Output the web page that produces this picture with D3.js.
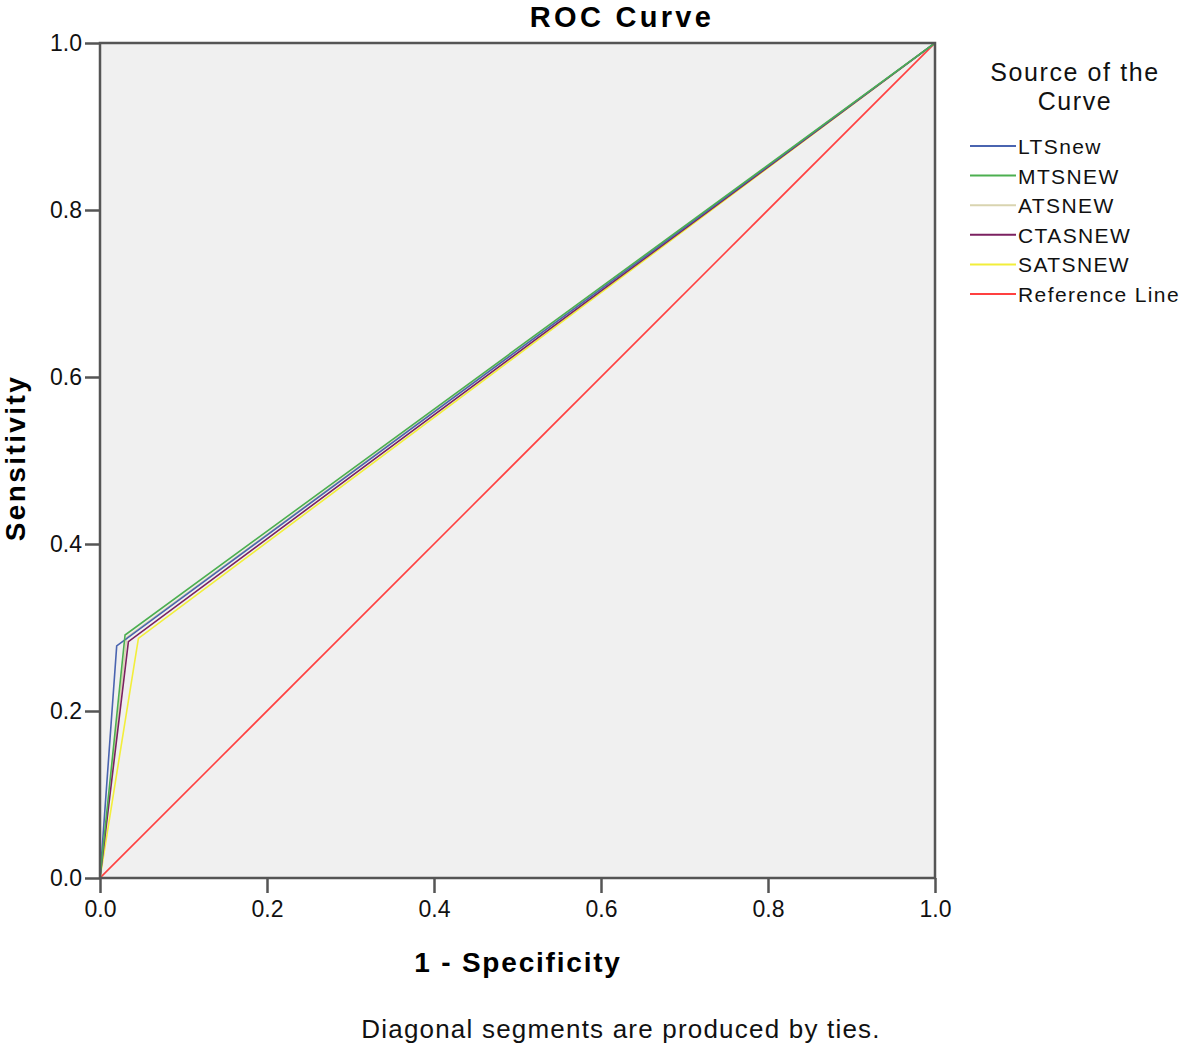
<!DOCTYPE html>
<html><head><meta charset="utf-8">
<script src="https://cdn.jsdelivr.net/npm/d3@7"></script>
<style>body{margin:0;background:#fff}</style>
</head><body>
<svg id="c" width="1181" height="1047"></svg>
<script>
const seriesNames = ["LTSnew","MTSNEW","ATSNEW","CTASNEW","SATSNEW","Reference Line"];
const seriesColors = ["#4a64b0","#4caf50","#d9d4b0","#7b2160","#f2ee3a","#ff4040"];
const ltsPoints = [[0,0],[0.020,0.278],[1,1]];
const mtsPoints = [[0,0],[0.030,0.291],[1,1]];
const atsPoints = [[0,0],[0.032,0.288],[1,1]];
const ctasPoints = [[0,0],[0.034,0.283],[1,1]];
const satsPoints = [[0,0],[0.046,0.287],[1,1]];
const refPoints = [[0,0],[1,1]];
const tickValues = [0,0.2,0.4,0.6,0.8,1.0];

const svg = d3.select("#c");
const L=100,R=935,T=43,B=878;
const x = d3.scaleLinear().domain([0,1]).range([L,R]);
const y = d3.scaleLinear().domain([0,1]).range([B,T]);
const font = "'Liberation Sans', Arial, sans-serif";

svg.append("rect").attr("x",L).attr("y",T).attr("width",R-L).attr("height",B-T).attr("fill","#f0f0f0");

svg.append("defs").append("clipPath").attr("id","pc").append("rect").attr("x",L).attr("y",T).attr("width",R-L).attr("height",B-T);

const line = d3.line().x(d=>x(d[0])).y(d=>y(d[1]));
const order = [refPoints, satsPoints, atsPoints, ctasPoints, ltsPoints, mtsPoints];
const orderColors = [5,4,2,3,0,1];
const g = svg.append("g").attr("clip-path","url(#pc)");
order.forEach((pts,i)=>{
  g.append("path").datum(pts).attr("d",line).attr("fill","none")
   .attr("stroke",seriesColors[orderColors[i]]).attr("stroke-width",1.6);
});

svg.append("rect").attr("x",L).attr("y",T).attr("width",R-L).attr("height",B-T)
  .attr("fill","none").attr("stroke","#555").attr("stroke-width",2.5);

const yAxis = d3.axisLeft(y).tickValues(tickValues).tickFormat(d3.format(".1f")).tickSize(15).tickPadding(3);
const yg = svg.append("g").attr("transform",`translate(${L},0)`).call(yAxis);
const xAxis = d3.axisBottom(x).tickValues(tickValues).tickFormat(d3.format(".1f")).tickSize(15).tickPadding(8);
const xg = svg.append("g").attr("transform",`translate(0,${B})`).call(xAxis);
[yg,xg].forEach(a=>{
  a.select(".domain").remove();
  a.selectAll(".tick line").attr("stroke","#555").attr("stroke-width",2.5);
  a.selectAll(".tick text").attr("font-family",font).attr("font-size",23).attr("fill","#111");
});

svg.append("text").attr("x",622).attr("y",27).attr("text-anchor","middle")
  .attr("font-family",font).attr("font-weight","bold").attr("font-size",29).attr("letter-spacing",3.3).text("ROC Curve");
svg.append("text").attr("x",518).attr("y",972).attr("text-anchor","middle")
  .attr("font-family",font).attr("font-weight","bold").attr("font-size",28).attr("letter-spacing",1.8).text("1 - Specificity");
svg.append("text").attr("transform","translate(25,458) rotate(-90)").attr("text-anchor","middle")
  .attr("font-family",font).attr("font-weight","bold").attr("font-size",28).attr("letter-spacing",2.4).text("Sensitivity");
svg.append("text").attr("x",621).attr("y",1038).attr("text-anchor","middle")
  .attr("font-family",font).attr("font-size",26).attr("letter-spacing",1.2).attr("fill","#111").text("Diagonal segments are produced by ties.");

const lg = svg.append("g");
lg.append("text").attr("x",1075).attr("y",81).attr("text-anchor","middle")
  .attr("font-family",font).attr("font-size",25).attr("letter-spacing",1.6).attr("fill","#111").text("Source of the");
lg.append("text").attr("x",1075).attr("y",110).attr("text-anchor","middle")
  .attr("font-family",font).attr("font-size",25).attr("letter-spacing",1.6).attr("fill","#111").text("Curve");
seriesNames.forEach((n,i)=>{
  const yy = 146 + i*29.6;
  lg.append("line").attr("x1",970).attr("x2",1016).attr("y1",yy).attr("y2",yy)
    .attr("stroke",seriesColors[i]).attr("stroke-width",2);
  lg.append("text").attr("x",1018).attr("y",yy+8).attr("font-family",font).attr("font-size",21)
    .attr("letter-spacing",1.4).attr("fill","#111").text(n);
});
</script>
</body></html>
